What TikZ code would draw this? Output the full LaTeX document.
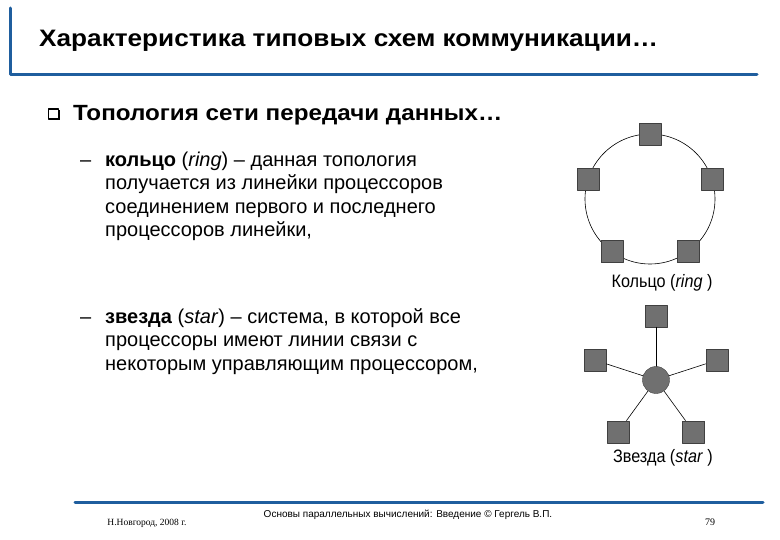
\documentclass[tikz,border=0pt]{standalone}
\usepackage{fontspec}
\setmainfont[FakeStretch=1.1]{Liberation Sans}
\newfontfamily\narrowfont[FakeStretch=0.9]{Liberation Sans}
\newfontfamily\plainsans{Liberation Sans}
\newfontfamily\footserif{Liberation Serif}
\usetikzlibrary{positioning,shadows}
\definecolor{slideblue}{RGB}{31,94,158}
\definecolor{procgray}{RGB}{112,112,112}
\tikzset{
  proc/.style={draw=black!75, fill=procgray, minimum size=22pt, inner sep=0pt},
  hub/.style={circle, draw=black!75, fill=procgray, minimum size=27pt, inner sep=0pt},
  link/.style={line width=0.6pt},
  bodytext/.style={anchor=north west, inner sep=0pt, align=left, font=\plainsans\fontsize{20}{23.5}\selectfont},
  caption/.style={inner sep=0pt, font=\narrowfont\fontsize{18}{20}\selectfont},
  rule/.style={slideblue, line width=3pt},
}
\begin{document}
\begin{tikzpicture}[x=1pt, y=-1pt, line join=round, line cap=round]
	\useasboundingbox (0,0) rectangle (780,540);
	% header
	\draw[rule] (10,8) -- (10,75) -- (757,75);
	\node[anchor=base west, inner sep=0pt, font=\bfseries\fontsize{23.8}{26}\selectfont] (title) at (39,47) {Характеристика типовых схем коммуникации…};
	\node[draw, line width=1.2pt, fill=white, minimum size=10pt, inner sep=0pt,
		drop shadow={shadow xshift=1.2pt, shadow yshift=-1.2pt, fill=black, opacity=1}] (bul) at (53.5,114) {};
	\node[anchor=base west, inner sep=0pt, font=\bfseries\fontsize{22}{24}\selectfont] (topo) at (73,120.5) {Топология сети передачи данных…};
	% ring
	\node[bodytext] (ringdash) at (80,149.5) {\strut–};
	\node[bodytext] (ringtxt) at (105,149.5) {\strut\textbf{кольцо} (\textit{ring}) – данная топология\\получается из линейки процессоров\\соединением первого и последнего\\процессоров линейки,};
	\coordinate (rc) at (650,199);
	\draw[link] (rc) circle[radius=65];
	\foreach \n/\a in {1/-90,2/-18,3/54,4/126,5/198}
		\node[proc] (r\n) at ([shift={(\a:65)}]rc) {};
	\node[caption] (ringcap) at (662,283) {Кольцо (\textit{ring} )};
	% star
	\node[bodytext] (stardash) at (80,306.5) {\strut–};
	\node[bodytext] (startxt) at (105,306.5) {\strut\textbf{звезда} (\textit{star}) – система, в которой все\\процессоры имеют линии связи с\\некоторым управляющим процессором,};
	\node[hub] (hub) at (656,380) {};
	\foreach \n/\a in {1/-90,2/-18,3/54,4/126,5/198} {
		\node[proc] (s\n) at ([shift={(\a:64)}]hub) {};
		\draw[link] (hub) -- (s\n);
	}
	\node[caption] (starcap) at (663,458) {Звезда (\textit{star} )};
	% footer
	\draw[rule] (75,502) -- (763,502);
	\node[font=\footserif\fontsize{9.5}{11}\selectfont, inner sep=0pt] (city) at (147,523) {Н.Новгород, 2008 г.};
	\node[font=\plainsans\fontsize{10}{12}\selectfont, inner sep=0pt] (course) at (408,515) {Основы параллельных вычислений: Введение © Гергель В.П.};
	\node[font=\footserif\fontsize{10}{12}\selectfont, inner sep=0pt] (page) at (710,522) {79};
\end{tikzpicture}
\end{document}
